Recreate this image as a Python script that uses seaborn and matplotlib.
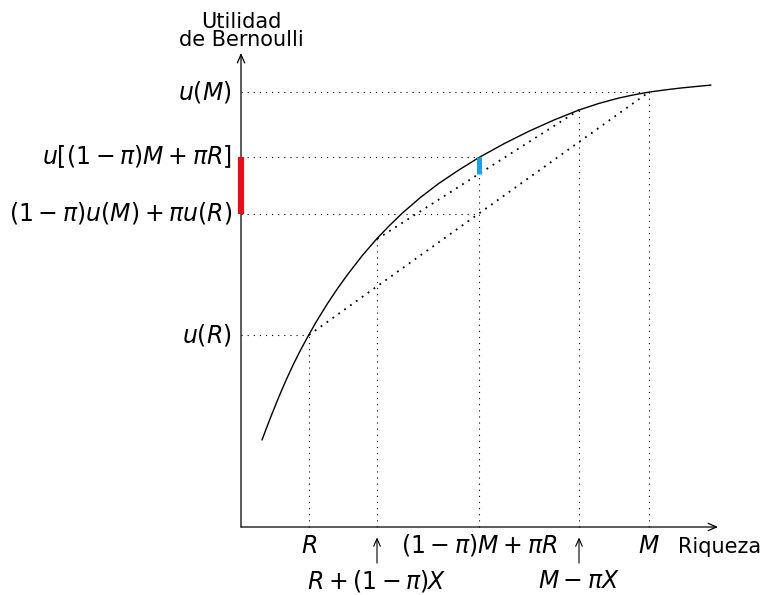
import matplotlib.pyplot as plt
import pandas as pd
import seaborn as sns

# utility curve (origin at the corner of the axes)
wealth = [21, 26, 30, 35, 39, 45, 52, 59, 66, 75, 86, 96, 106, 121, 136, 148, 161,
          180, 198, 218, 238, 263, 288, 313, 338, 358, 378, 393, 408, 424, 440, 455, 470]
utility = [87, 100.3, 110.6, 123.1, 132.8, 146.7, 161.9, 175.9, 188.9, 204.8, 222.7,
           237.7, 251.7, 271.1, 288.5, 301, 313.6, 330, 343.7, 357.1, 369.5, 383.3,
           395.8, 407, 417, 423.6, 429, 432.2, 434.9, 437.1, 439, 440.5, 441.9]

# marked wealth levels: R, R+(1-pi)X, (1-pi)M+piR, M-piX, M
mark_wealth = [68, 136, 238, 338, 408]
mark_utility = [192, 288, 370, 417, 435]

x_labels_top = [r"$R$", r"$(1-\pi)M+\pi R$", r"$M$"]
x_labels_low = [r"$R+(1-\pi)X$", r"$M-\pi X$"]
y_labels = [r"$u(M)$", r"$u[(1-\pi)M+\pi R]$", r"$(1-\pi)u(M)+\pi u(R)$", r"$u(R)$"]
x_title = "Riqueza"
y_title = "Utilidad\nde Bernoulli"

sns.set_theme(style="white")
plt.rcParams["font.family"] = ["DejaVu Sans"]
plt.rcParams["mathtext.fontset"] = "dejavusans"
plt.rcParams["text.color"] = "black"
FS = 15
MFS = 17

R, X1, E, X2, M = mark_wealth
uR, u1, uE, u2, uM = mark_utility
pi = (M - E) / (M - R)
chord = (1 - pi) * uM + pi * uR
upper = u1 + (E - X1) / (X2 - X1) * (u2 - u1)

fig = plt.figure(figsize=(7.62, 5.95), dpi=100)
ax = fig.add_axes([0, 0, 1, 1])
ax.set_xlim(-241, 521)
ax.set_ylim(-68, 527)
ax.axis("off")

# axes with arrow heads
arrow = dict(arrowstyle="->,head_length=0.5,head_width=0.22", lw=0.9, color="black",
             shrinkA=0, shrinkB=0)
ax.annotate("", xy=(477, 0), xytext=(0, 0), arrowprops=arrow)
ax.annotate("", xy=(0, 474), xytext=(0, 0), arrowprops=arrow)

# utility curve
df = pd.DataFrame({"wealth": wealth, "utility": utility})
sns.lineplot(data=df, x="wealth", y="utility", color="black", lw=1.0, ax=ax, sort=False)

# guide lines
fine = dict(color="black", lw=0.8, linestyle=(0, (1, 4.5)))
ax.hlines([uM, uE, chord, uR], 0, [M, E, E, R], **fine)
ax.vlines(mark_wealth, 0, mark_utility, **fine)
bold = dict(color="black", lw=1.3, linestyle=(0, (1, 3)))
ax.plot([R, M], [uR, uM], **bold)
ax.plot([X1, X2], [u1, u2], **bold)

# highlighted gaps
ax.vlines(0, chord, uE, color="#e3101a", lw=4.5, zorder=5)
ax.vlines(E, upper, uE, color="#1ba1e3", lw=3.6, zorder=5)

# y labels
for u, lab in zip([uM, uE, chord, uR], y_labels):
    ax.annotate(lab, xy=(0, u), xytext=(-6.5, 0), textcoords="offset points",
                ha="right", va="center", fontsize=MFS)
ax.annotate(y_title, xy=(0, 474), xytext=(0, 2), textcoords="offset points",
            ha="center", va="bottom", multialignment="center", linespacing=0.9,
            fontsize=FS)

# x labels
for w, lab in zip([R, E, M], x_labels_top):
    ax.annotate(lab, xy=(w, 0), xytext=(0, -18.5), textcoords="offset points",
                ha="center", va="baseline", fontsize=MFS)
ax.annotate(x_title, xy=(437, 0), xytext=(0, -18.5), textcoords="offset points",
            ha="left", va="baseline", fontsize=FS)

up = dict(arrowstyle="->,head_length=0.45,head_width=0.2", lw=0.8, color="black",
          shrinkA=0, shrinkB=7.5)
for w, lab in zip([X1, X2], x_labels_low):
    ax.annotate("", xy=(w, 0), xytext=(0, -26), textcoords="offset points", arrowprops=up)
    ax.annotate(lab, xy=(w, 0), xytext=(0, -44), textcoords="offset points",
                ha="center", va="baseline", fontsize=MFS)

fig.savefig("out.png", dpi=100)
